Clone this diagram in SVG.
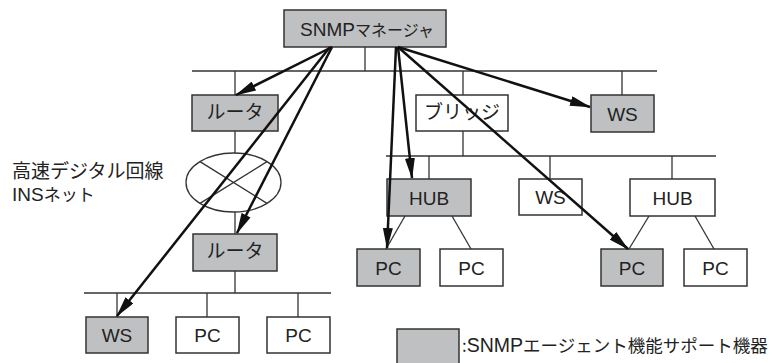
<svg xmlns="http://www.w3.org/2000/svg" width="773" height="363" viewBox="0 0 773 363">
<style>
.box{stroke:#333;stroke-width:1.5}
.g{fill:#bfc0c2}
.w{fill:#fff}
.thin{stroke:#333;stroke-width:1.3;fill:none}
.arr{stroke:#111;stroke-width:2.5;fill:none;marker-end:url(#ah)}
text{font-family:"Liberation Sans","Noto Sans CJK JP",sans-serif;fill:#222;font-size:19px}
.c{text-anchor:middle}
.j{font-family:"Noto Sans CJK JP",sans-serif}
</style>
<defs>
<marker id="ah" markerUnits="userSpaceOnUse" markerWidth="22" markerHeight="10" refX="20" refY="5" orient="auto">
<path d="M0,0 L21,5 L0,10 z" fill="#111"/>
</marker>
</defs>
<rect width="773" height="363" fill="#fff"/>
<g id="manager">
<rect class="box g" x="284" y="10" width="162" height="37"/>
<text class="c" x="367" y="36"><tspan font-size="19">SNMP</tspan><tspan class="j" font-size="16">マネージャ</tspan></text>
</g>
<g id="router1">
<rect class="box g" x="192" y="95" width="86" height="36"/>
<text class="c j" x="235" y="119" font-size="17">ルータ</text>
</g>
<g id="bridge">
<rect class="box w" x="416" y="95" width="92" height="36"/>
<text class="c j" x="462" y="119" font-size="17">ブリッジ</text>
</g>
<g id="ws-top">
<rect class="box g" x="591" y="95" width="63" height="37"/>
<text class="c" x="622.5" y="120.5">WS</text>
</g>
<g id="ins">
<ellipse class="thin" cx="233.5" cy="182.5" rx="47.5" ry="29.5" fill="#fff"/>
<line class="thin" x1="200" y1="161.6" x2="267" y2="203.4"/>
<line class="thin" x1="267" y1="161.6" x2="200" y2="203.4"/>
</g>
<g id="ins-label">
<text x="12" y="178" class="j" font-size="18">高速デジタル回線</text>
<text x="12" y="201">INS<tspan class="j" font-size="17">ネット</tspan></text>
</g>
<g id="router2">
<rect class="box g" x="193" y="234" width="84" height="37"/>
<text class="c j" x="235" y="258" font-size="17">ルータ</text>
</g>
<g id="hub1">
<rect class="box g" x="387" y="179" width="84" height="37"/>
<text class="c" x="429" y="204.5">HUB</text>
</g>
<g id="ws-mid">
<rect class="box w" x="519" y="179" width="63" height="36"/>
<text class="c" x="550.5" y="204">WS</text>
</g>
<g id="hub2">
<rect class="box w" x="630" y="179" width="85" height="37"/>
<text class="c" x="672.5" y="204.5">HUB</text>
</g>
<g id="pc1">
<rect class="box g" x="357" y="249" width="63" height="37"/>
<text class="c" x="388.5" y="274.5">PC</text>
</g>
<g id="pc2">
<rect class="box w" x="440" y="249" width="63" height="37"/>
<text class="c" x="471.5" y="274.5">PC</text>
</g>
<g id="pc3">
<rect class="box g" x="601" y="249" width="62" height="37"/>
<text class="c" x="632" y="274.5">PC</text>
</g>
<g id="pc4">
<rect class="box w" x="684" y="249" width="63" height="37"/>
<text class="c" x="715.5" y="274.5">PC</text>
</g>
<g id="ws-bot">
<rect class="box g" x="86" y="317" width="62" height="36"/>
<text class="c" x="117" y="342">WS</text>
</g>
<g id="pc5">
<rect class="box w" x="176" y="317" width="63" height="36"/>
<text class="c" x="207.5" y="342">PC</text>
</g>
<g id="pc6">
<rect class="box w" x="267" y="317" width="63" height="36"/>
<text class="c" x="298.5" y="342">PC</text>
</g>
<g id="legend">
<rect class="box g" x="397" y="329" width="62" height="35"/>
<text x="462" y="352"><tspan class="j" font-size="17">:</tspan><tspan font-size="19.5">SNMP</tspan><tspan class="j" font-size="17.5">エージェント機能サポート機器</tspan></text>
</g>
<g id="connectors">
<line class="thin" x1="365" y1="47" x2="365" y2="71"/>
<line class="thin" x1="192" y1="71" x2="657" y2="71"/>
<line class="thin" x1="235" y1="71" x2="235" y2="95"/>
<line class="thin" x1="463" y1="71" x2="463" y2="95"/>
<line class="thin" x1="622" y1="71" x2="622" y2="95"/>
<line class="thin" x1="463" y1="131" x2="463" y2="156"/>
<line class="thin" x1="386" y1="156" x2="716" y2="156"/>
<line class="thin" x1="429" y1="156" x2="429" y2="179"/>
<line class="thin" x1="550" y1="156" x2="550" y2="179"/>
<line class="thin" x1="672" y1="156" x2="672" y2="179"/>
<line class="thin" x1="405" y1="216" x2="386" y2="249"/>
<line class="thin" x1="452" y1="216" x2="471" y2="249"/>
<line class="thin" x1="649" y1="216" x2="629" y2="249"/>
<line class="thin" x1="695" y1="216" x2="714" y2="249"/>
<line class="thin" x1="235" y1="131" x2="235" y2="153"/>
<line class="thin" x1="235" y1="212" x2="235" y2="234"/>
<line class="thin" x1="235" y1="271" x2="235" y2="293"/>
<line class="thin" x1="84" y1="293" x2="331" y2="293"/>
<line class="thin" x1="117" y1="293" x2="117" y2="317"/>
<line class="thin" x1="207" y1="293" x2="207" y2="317"/>
<line class="thin" x1="298" y1="293" x2="298" y2="317"/>
<line class="arr" x1="332" y1="47" x2="236" y2="95"/>
<line class="arr" x1="332" y1="47" x2="237" y2="233"/>
<line class="arr" x1="330" y1="47" x2="117" y2="316"/>
<line class="arr" x1="396" y1="47" x2="387" y2="248"/>
<line class="arr" x1="398" y1="47" x2="412" y2="178"/>
<line class="arr" x1="398" y1="47" x2="628" y2="249"/>
<line class="arr" x1="398" y1="47" x2="590" y2="107"/>
</g>
</svg>
